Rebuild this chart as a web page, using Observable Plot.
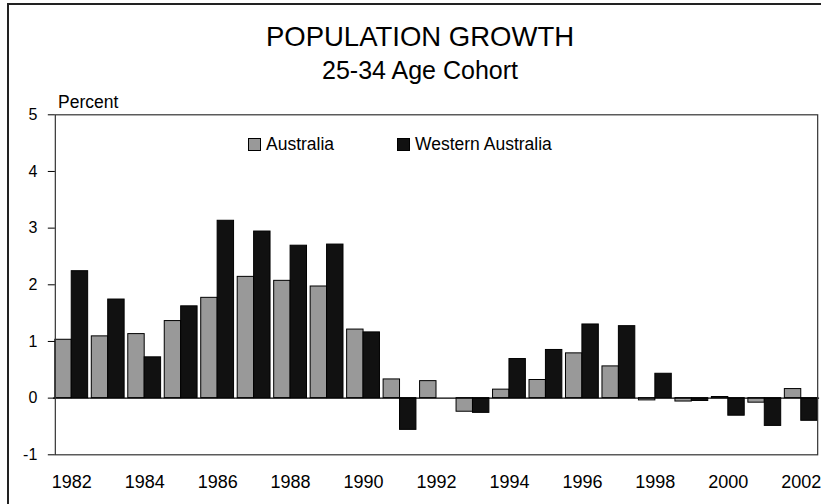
<!DOCTYPE html>
<html><head><meta charset="utf-8">
<script src="https://cdn.jsdelivr.net/npm/d3@7"></script>
<script src="https://cdn.jsdelivr.net/npm/@observablehq/plot@0.6"></script>
<style>
body{margin:0;background:#fff;font-family:"Liberation Sans",Arial,sans-serif;color:#000;}
#wrap{position:relative;width:821px;height:504px;overflow:hidden;background:#fff;}
#chart{position:absolute;left:0;top:0;}
.border{position:absolute;left:7px;top:3px;width:900px;height:600px;border-left:2px solid #222;border-top:2px solid #222;pointer-events:none;}
.title{position:absolute;left:0;width:840px;text-align:center;line-height:1;white-space:nowrap;}
#t1{top:23.2px;font-size:27.5px;}
#t2{top:58px;font-size:25px;}
#ylab{position:absolute;left:58px;top:93.5px;font-size:17.5px;line-height:1;}
.leg{position:absolute;top:136px;font-size:17.5px;line-height:1;white-space:nowrap;}
.sw{position:absolute;top:2.3px;width:10.5px;height:10.5px;border:1px solid #000;}
</style></head><body>
<div id="wrap">
  <div id="chart"></div>
  <div class="border"></div>
  <div class="title" id="t1">POPULATION GROWTH</div>
  <div class="title" id="t2">25-34 Age Cohort</div>
  <div id="ylab">Percent</div>
  <div class="leg" id="leg0" style="left:248px"><span class="sw" style="left:0;background:#999999"></span><span style="position:absolute;left:18px;top:0">Australia</span></div>
  <div class="leg" id="leg1" style="left:397px"><span class="sw" style="left:0;background:#111111"></span><span style="position:absolute;left:18px;top:0">Western Australia</span></div>
</div>
<script>
const years = [1982,1983,1984,1985,1986,1987,1988,1989,1990,1991,1992,1993,1994,1995,1996,1997,1998,1999,2000,2001,2002];
const australia = [1.03,1.09,1.13,1.36,1.77,2.14,2.07,1.97,1.21,0.33,0.30,-0.24,0.15,0.32,0.79,0.56,-0.04,-0.06,0.02,-0.08,0.16];
const westernAustralia = [2.24,1.74,0.72,1.62,3.13,2.94,2.69,2.71,1.16,-0.56,0.0,-0.26,0.69,0.85,1.30,1.27,0.43,-0.05,-0.31,-0.49,-0.40];
const seriesNames = ["Australia","Western Australia"];
const seriesColors = ["#999999","#111111"];
const yTicks = [-1,0,1,2,3,4,5];

const data = years.flatMap((yr, i) => [
  {year: yr, series: seriesNames[0], value: australia[i]},
  {year: yr, series: seriesNames[1], value: westernAustralia[i]}
]);

const plot = Plot.plot({
  width: 821, height: 504,
  marginTop: 114.3, marginBottom: 49.7, marginLeft: 53, marginRight: 2,
  style: {fontFamily: "Liberation Sans, Arial, sans-serif", background: "transparent", color: "#000"},
  fx: {domain: years, paddingInner: 0.1, paddingOuter: 0.05, round: false},
  x: {domain: seriesNames, padding: 0, round: false, axis: null},
  y: {domain: [-1, 5]},
  color: {domain: seriesNames, range: seriesColors},
  marks: [
    Plot.barY(data, {fx: "year", x: "series", y: "value", fill: "series", stroke: "#000", strokeWidth: 1}),
    Plot.ruleY([0], {stroke: "#000", strokeWidth: 1.2, insetLeft: -1.9, insetRight: -1.9}),
    Plot.frame({facet: "super", stroke: "#333", strokeWidth: 1.2}),
    Plot.axisY({ticks: yTicks, tickFormat: d => String(d), tickSize: 7, tickPadding: 11, fontSize: 16, label: null}),
    Plot.axisFx({anchor: "bottom", tickFormat: d => d % 2 === 0 ? String(d) : "", tickSize: 0, tickPadding: 20, fontSize: 18, label: null})
  ]
});
document.getElementById("chart").appendChild(plot);
</script>
</body></html>
